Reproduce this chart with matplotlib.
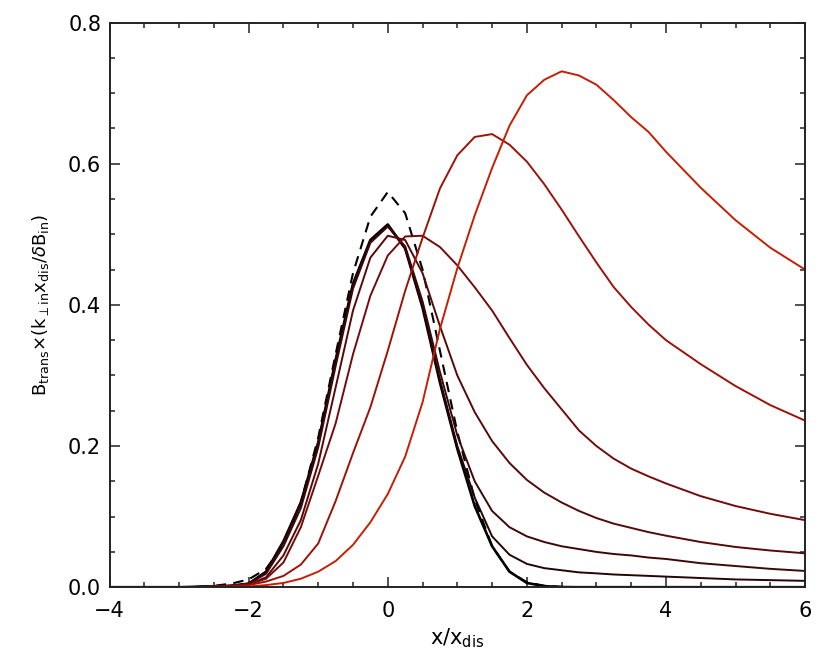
import matplotlib
matplotlib.use("Agg")
import matplotlib.pyplot as plt
from matplotlib.ticker import MultipleLocator

plt.rcParams['font.family'] = ['DejaVu Sans']
plt.rcParams['mathtext.fontset'] = 'dejavusans'

x = [-4.0, -3.5, -3.0, -2.75, -2.5, -2.25, -2.0, -1.75, -1.5, -1.25, -1.0, -0.75,
     -0.5, -0.25, 0.0, 0.25, 0.5, 0.75, 1.0, 1.25, 1.5, 1.75, 2.0, 2.25, 2.5,
     2.75, 3.0, 3.25, 3.5, 3.75, 4.0, 4.5, 5.0, 5.5, 6.0]

dashed = [0, 0, 0, 0.0005, 0.002, 0.005, 0.011, 0.026, 0.06, 0.12, 0.212, 0.33,
          0.445, 0.525, 0.56, 0.53, 0.45, 0.335, 0.22, 0.125, 0.058, 0.022, 0.007,
          0.002, 0.0005, 0, 0, 0, 0, 0, 0, 0, 0, 0, 0]

c1 = [0, 0, 0, 0.0005, 0.001, 0.002, 0.005, 0.022, 0.065, 0.12, 0.205, 0.322,
      0.43, 0.492, 0.514, 0.48, 0.396, 0.29, 0.196, 0.115, 0.058, 0.022, 0.006,
      0.0015, 0.0002, 0, 0, 0, 0, 0, 0, 0, 0, 0, 0]

c2 = [0, 0, 0, 0.0005, 0.001, 0.002, 0.005, 0.021, 0.064, 0.119, 0.204, 0.32,
      0.428, 0.49, 0.512, 0.48, 0.398, 0.294, 0.2, 0.127, 0.072, 0.046, 0.033,
      0.027, 0.024, 0.021, 0.0196, 0.018, 0.017, 0.016, 0.015, 0.013, 0.011, 0.010, 0.009]

c3 = [0, 0, 0, 0.0005, 0.001, 0.002, 0.005, 0.019, 0.058, 0.112, 0.198, 0.313,
      0.423, 0.488, 0.511, 0.483, 0.405, 0.305, 0.215, 0.15, 0.108, 0.085, 0.072,
      0.064, 0.058, 0.054, 0.05, 0.047, 0.045, 0.042, 0.04, 0.034, 0.03, 0.026, 0.023]

c4 = [0, 0, 0, 0.0005, 0.001, 0.002, 0.004, 0.014, 0.045, 0.095, 0.175, 0.283,
      0.392, 0.467, 0.498, 0.492, 0.445, 0.37, 0.3, 0.248, 0.207, 0.176, 0.152,
      0.134, 0.12, 0.108, 0.098, 0.09, 0.084, 0.078, 0.073, 0.064, 0.057, 0.052, 0.048]

c5 = [0, 0, 0, 0.0003, 0.001, 0.002, 0.004, 0.012, 0.035, 0.085, 0.158, 0.232,
      0.33, 0.413, 0.47, 0.497, 0.498, 0.482, 0.456, 0.425, 0.392, 0.353, 0.315,
      0.282, 0.252, 0.222, 0.2, 0.182, 0.168, 0.157, 0.147, 0.129, 0.115, 0.104, 0.095]

c6 = [0, 0, 0, 0, 0.0005, 0.001, 0.003, 0.008, 0.016, 0.032, 0.062, 0.122,
      0.19, 0.255, 0.335, 0.42, 0.495, 0.565, 0.612, 0.638, 0.642, 0.627, 0.603,
      0.571, 0.535, 0.497, 0.46, 0.425, 0.397, 0.372, 0.35, 0.316, 0.285, 0.258, 0.236]

c7 = [0, 0, 0, 0, 0, 0.0005, 0.001, 0.003, 0.006, 0.012, 0.022, 0.037,
      0.06, 0.092, 0.132, 0.185, 0.262, 0.366, 0.452, 0.527, 0.594, 0.654, 0.697,
      0.719, 0.731, 0.725, 0.712, 0.69, 0.666, 0.645, 0.617, 0.566, 0.52, 0.481, 0.45]

series = [c1, c2, c3, c4, c5, c6, c7]
colors = ['#000000', '#240404', '#3e0707', '#560909', '#720b0b', '#9c1208', '#c61e04']
widths = [1.9, 1.4, 1.4, 1.4, 1.4, 1.4, 1.4]

fig = plt.figure(figsize=(8.30, 6.65), dpi=100)
ax = fig.add_axes([0.132, 0.117, 0.838, 0.849])

ax.plot(x, dashed, color='black', lw=1.5, ls=(0, (5, 3.5)))
for ys, col, lw in zip(series, colors, widths):
    ax.plot(x, ys, color=col, lw=lw)

ax.set_xlim(-4, 6)
ax.set_ylim(0, 0.8)
ax.xaxis.set_major_locator(MultipleLocator(2))
ax.xaxis.set_minor_locator(MultipleLocator(0.5))
ax.yaxis.set_major_locator(MultipleLocator(0.2))
ax.yaxis.set_minor_locator(MultipleLocator(0.05))
ax.yaxis.set_major_formatter(matplotlib.ticker.FormatStrFormatter('%.1f'))
ax.tick_params(which='both', direction='in', top=True, right=True, width=1.1,
               labelsize=15, color='#222222')
ax.tick_params(which='major', length=7.5)
ax.tick_params(which='minor', length=3.8)
ax.tick_params(axis='x', which='major', pad=10)
ax.tick_params(axis='y', which='major', pad=6)
for sp in ax.spines.values():
    sp.set_linewidth(1.4)
    sp.set_color('#222222')

ax.set_xlabel(r'x/x$_{\rm dis}$', fontsize=15, labelpad=4)
ax.set_ylabel(r'B$_{\rm trans}$$\times$(k$_{\perp{\rm in}}$x$_{\rm dis}$/$\delta$B$_{\rm in}$)',
              fontsize=13, labelpad=12)

fig.savefig('out.png', dpi=100)
